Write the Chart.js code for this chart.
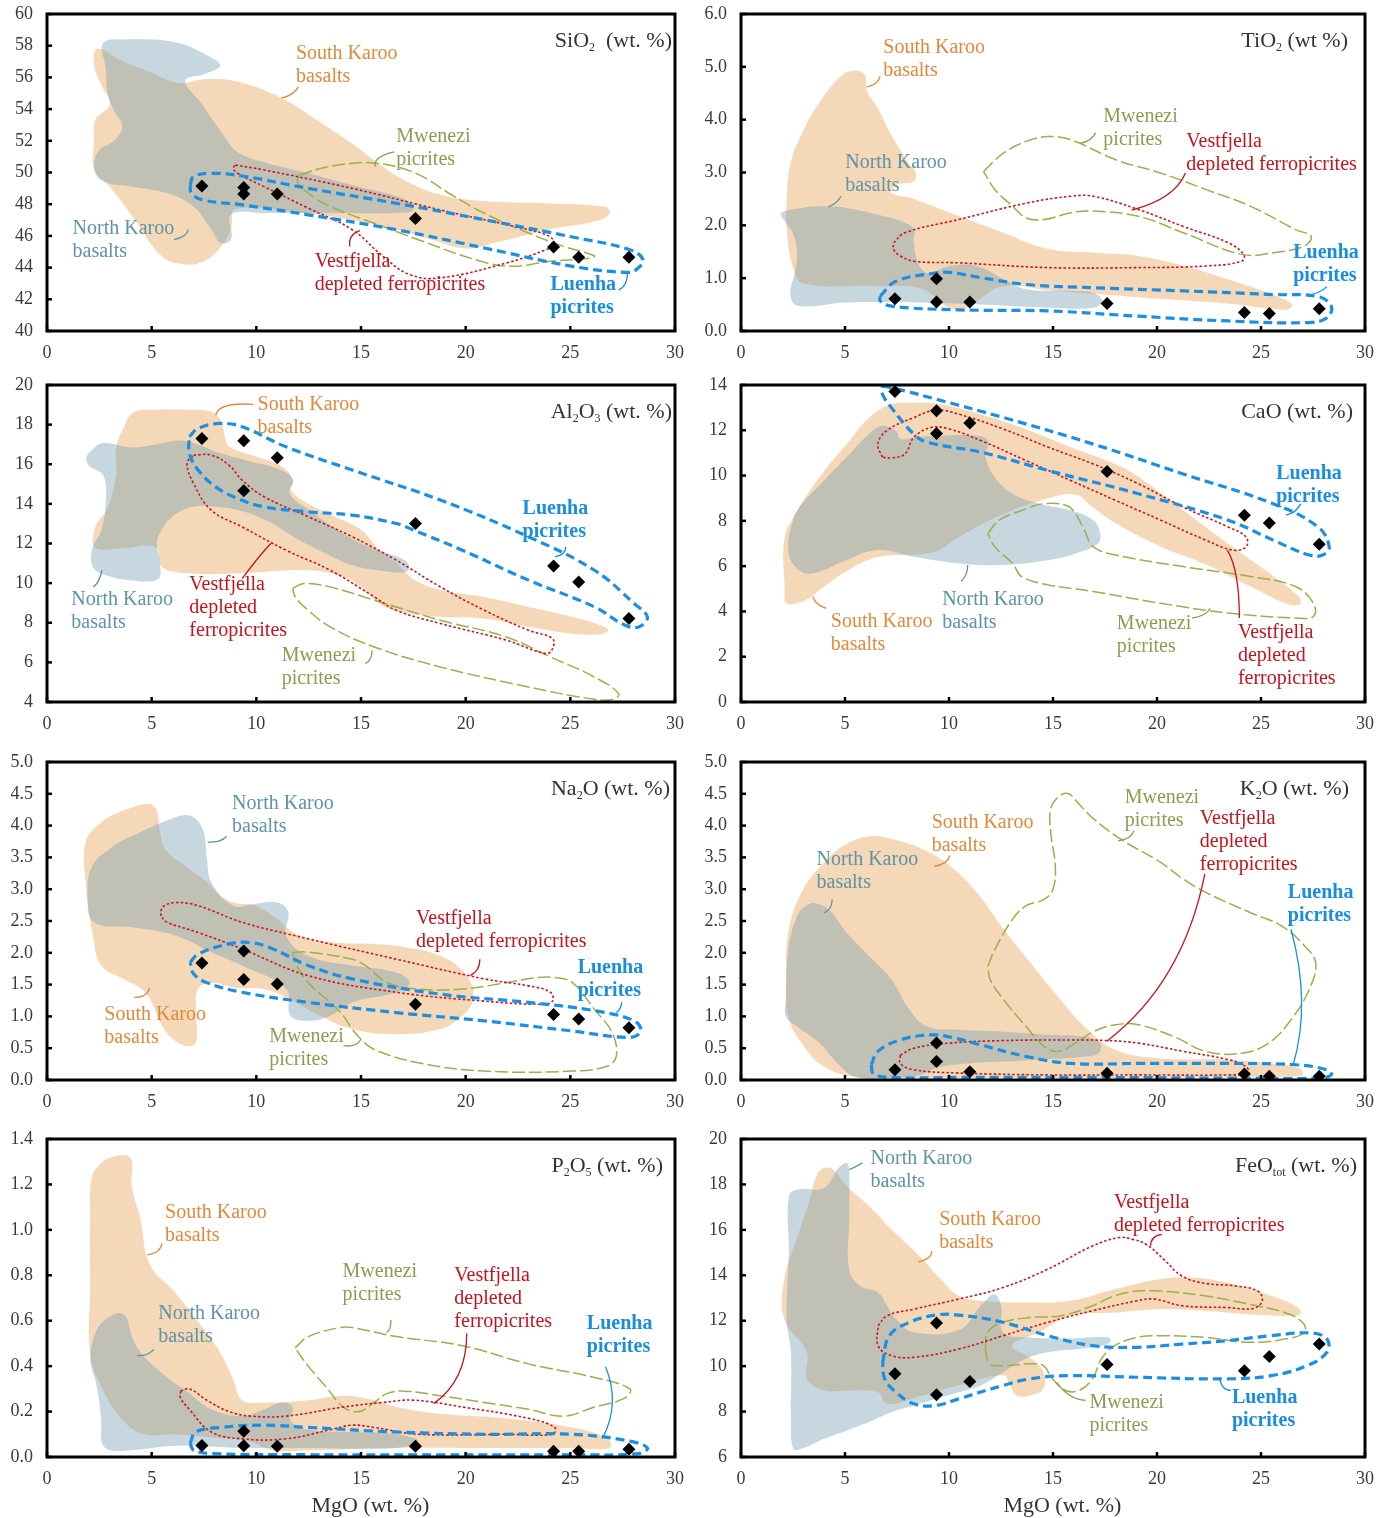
<!DOCTYPE html>
<html>
<head>
<meta charset="utf-8">
<title>Major elements vs MgO</title>
<script src="https://cdn.jsdelivr.net/npm/chart.js@4.4.1/dist/chart.umd.min.js"></script>
<style>
  html, body { margin: 0; padding: 0; background: #fff; }
  #wrap { position: relative; width: 1392px; height: 1518px; overflow: hidden; }
  #wrap canvas { position: absolute; }
</style>
</head>
<body>
<div id="wrap"></div>
<script>
// ---- Luenha picrite samples (wt. %) ----
const mgo   = [7.4, 9.4, 9.4, 11.0, 17.6, 24.2, 25.4, 27.8];
const sio2  = [49.15, 49.05, 48.65, 48.65, 47.1, 45.3, 44.65, 44.65];
const tio2  = [0.61, 0.99, 0.55, 0.55, 0.52, 0.35, 0.33, 0.42];
const al2o3 = [17.3, 17.18, 14.66, 16.33, 13.01, 10.87, 10.06, 8.21];
const cao   = [13.71, 12.86, 11.86, 12.32, 10.18, 8.25, 7.91, 6.97];
const na2o  = [1.84, 2.03, 1.58, 1.51, 1.19, 1.03, 0.96, 0.82];
const k2o   = [0.16, 0.58, 0.29, 0.13, 0.105, 0.095, 0.06, 0.06];
const p2o5  = [0.051, 0.113, 0.049, 0.047, 0.047, 0.025, 0.025, 0.034];
const feo   = [9.66, 11.9, 8.74, 9.32, 10.07, 9.8, 10.42, 10.97];

// ---- Compositional fields, outlines as [MgO, oxide] ----
// SiO2
const skSiO2 = [[2.4,57.8],[3.5,57.1],[5.0,56.3],[6.3,55.65],[7.6,55.9],[9.2,55.7],[11.2,54.7],[12.9,53.3],[14.6,51.8],[15.8,50.6],[17.1,49.5],[18.8,48.6],[20.9,48.2],[24.0,48.05],[26.6,47.85],[26.9,47.5],[26.4,47.0],[24.0,46.4],[21.5,45.6],[20.0,45.2],[18.4,45.75],[16.7,46.4],[14.6,47.0],[12.5,47.4],[9.0,47.7],[8.8,46.5],[8.3,45.3],[7.5,44.4],[6.6,44.2],[5.5,44.7],[4.1,47.2],[3.0,49.1],[2.25,50.2],[2.25,52.0],[2.3,53.3],[3.0,54.3],[2.6,55.5],[2.25,56.8]];
const nkSiO2 = [[2.7,58.2],[4.06,58.4],[6.16,58.2],[7.64,57.4],[8.27,56.75],[7.5,56.2],[6.6,55.8],[7.4,54.3],[8.3,52.6],[9.1,51.3],[10.5,50.6],[12.5,49.95],[14.6,49.2],[16.7,48.5],[17.4,48.05],[17.5,47.7],[17.3,47.5],[14.6,47.43],[10.4,47.43],[8.8,47.35],[8.8,45.8],[8.3,45.55],[7.85,46.4],[7.0,47.85],[5.7,48.7],[4.06,49.1],[2.6,49.5],[2.25,50.4],[2.5,51.4],[3.2,52.0],[3.6,52.9],[3.2,53.9],[2.9,55.0],[2.8,56.6]];
const mwSiO2 = [[12.06,49.84],[13.2,50.3],[14.58,50.58],[15.42,50.62],[16.68,50.37],[17.95,49.74],[19.2,48.69],[20.89,47.43],[23.0,46.18],[24.68,45.34],[26.15,44.75],[26.0,44.6],[24.05,44.4],[22.15,44.08],[20.47,44.5],[17.74,45.76],[15.63,46.8],[13.53,47.85],[12.48,48.69],[11.95,49.4]];
const vfSiO2 = [[9.0,50.47],[10.37,50.16],[14.58,49.0],[18.79,47.64],[23.0,46.39],[24.05,45.93],[24.2,45.45],[23.84,45.13],[21.94,44.29],[18.79,43.35],[17.32,43.56],[16.05,44.71],[14.58,46.39],[12.48,47.75],[10.37,49.11],[9.11,49.95],[8.9,50.26]];
const luSiO2 = [[6.84,49.2],[7.0,49.74],[7.85,49.95],[9.32,49.78],[12.48,49.0],[16.68,48.06],[20.89,47.02],[25.1,45.93],[27.84,45.13],[28.47,44.5],[28.15,43.87],[27.62,43.7],[25.1,44.08],[20.89,45.24],[16.68,46.39],[12.48,47.33],[9.32,47.96],[7.43,48.27],[6.9,48.69]];

// TiO2
const skTiO2 = [[5.6,4.93],[5.95,4.85],[6.05,4.55],[6.6,4.2],[7.1,3.8],[7.7,3.4],[8.1,3.15],[8.4,3.0],[8.3,2.83],[7.5,2.77],[7.2,2.62],[8.3,2.5],[10.5,2.17],[12.6,1.86],[14.8,1.55],[17.0,1.48],[19.1,1.42],[21.3,1.23],[23.4,0.98],[25.6,0.68],[26.5,0.5],[26.2,0.4],[23.4,0.52],[19.1,0.64],[14.8,0.77],[12.6,0.85],[11.3,0.55],[10.9,0.44],[10.0,0.44],[8.7,0.8],[6.5,0.85],[3.0,0.9],[2.5,1.2],[2.2,1.9],[2.2,2.5],[2.4,3.2],[3.0,3.8],[3.9,4.4],[4.9,4.85]];
const nkTiO2 = [[1.94,2.24],[2.91,2.33],[3.99,2.36],[5.07,2.33],[6.58,2.2],[7.88,2.05],[8.31,1.92],[8.31,1.67],[8.5,1.3],[8.96,1.1],[10.04,1.23],[11.33,1.23],[12.63,0.98],[13.71,0.79],[15.86,0.76],[16.94,0.72],[17.37,0.57],[16.94,0.44],[14.78,0.44],[11.55,0.5],[8.31,0.54],[5.07,0.54],[2.7,0.48],[2.37,0.72],[2.59,1.1],[2.7,1.48],[2.48,1.86],[2.05,2.11]];
const mwTiO2 = [[11.66,3.02],[12.63,3.37],[13.71,3.59],[14.78,3.68],[15.86,3.62],[18.02,3.24],[20.18,2.99],[22.34,2.68],[24.5,2.36],[26.66,1.92],[27.41,1.79],[27.09,1.61],[25.58,1.48],[24.07,1.45],[21.26,1.86],[19.1,2.17],[16.94,2.27],[15.86,2.24],[14.57,2.11],[13.71,2.14],[13.06,2.36],[12.2,2.68]];
const vfTiO2 = [[7.34,1.67],[7.88,1.86],[10.47,2.11],[13.71,2.42],[15.86,2.55],[16.94,2.55],[19.1,2.3],[21.26,1.98],[23.42,1.67],[24.17,1.45],[24.07,1.32],[22.34,1.23],[19.1,1.2],[14.78,1.2],[10.47,1.29],[8.31,1.32],[7.66,1.42],[7.34,1.54]];
const luTiO2 = [[6.69,0.66],[7.45,0.94],[9.39,1.1],[10.04,1.11],[11.55,1.01],[13.71,0.88],[16.94,0.82],[21.26,0.76],[25.58,0.69],[27.74,0.65],[28.38,0.47],[28.17,0.25],[27.3,0.16],[23.42,0.19],[19.1,0.28],[14.78,0.38],[10.47,0.4],[7.23,0.47],[6.69,0.57]];

// Al2O3
const skAl2O3 = [[3.6,17.7],[4.1,18.6],[5.1,18.75],[6.6,18.75],[7.85,18.65],[8.3,18.2],[8.5,17.4],[8.7,16.9],[9.95,16.4],[11.2,15.9],[11.75,15.2],[11.65,14.7],[12.5,14.0],[13.75,13.35],[15.0,12.7],[15.85,11.7],[16.7,11.0],[17.5,10.2],[18.8,9.65],[20.9,9.3],[23.0,8.8],[25.1,8.3],[26.8,7.7],[26.6,7.45],[25.1,7.45],[23.0,7.8],[20.9,8.2],[18.8,8.3],[16.7,8.6],[15.85,9.0],[15.0,9.8],[14.2,10.3],[12.5,10.65],[9.3,10.5],[6.8,10.5],[5.5,10.8],[5.2,11.8],[3.5,11.75],[2.3,11.8],[2.3,12.8],[2.9,13.8],[3.3,15.5],[3.3,16.8]];
const nkAl2O3 = [[1.95,16.5],[2.6,17.05],[4.0,16.85],[5.2,17.0],[6.3,17.2],[7.2,17.0],[8.3,16.55],[9.5,16.2],[11.2,15.7],[11.75,15.2],[11.6,14.5],[12.5,13.7],[13.7,12.8],[15.0,12.0],[16.3,11.5],[17.1,11.15],[17.3,10.8],[17.1,10.55],[15.8,10.65],[14.6,10.9],[13.3,11.5],[12.0,12.2],[10.4,13.2],[8.5,13.8],[6.5,13.7],[5.3,12.3],[5.4,11.0],[5.3,10.2],[4.0,10.15],[2.8,10.4],[2.2,10.8],[2.15,11.7],[2.6,12.7],[2.8,14.0],[2.7,15.4],[1.95,16.0]];
const mwAl2O3 = [[11.74,9.73],[12.27,9.98],[13.53,9.81],[15.63,9.14],[18.79,8.13],[21.94,7.28],[24.05,6.27],[26.15,5.26],[27.31,4.42],[27.0,4.13],[25.94,4.17],[23.0,4.76],[18.79,5.77],[15.63,6.78],[13.53,7.79],[12.48,8.63],[11.85,9.31]];
const vfAl2O3 = [[7.0,16.46],[7.85,16.46],[8.69,15.96],[9.32,15.2],[10.37,14.36],[12.48,13.35],[14.58,12.34],[16.68,11.16],[18.79,9.81],[20.89,8.63],[23.0,7.62],[24.15,7.2],[24.15,6.69],[23.84,6.44],[21.94,7.12],[18.79,7.96],[16.68,8.63],[15.63,9.31],[13.53,10.65],[11.42,11.66],[9.32,12.84],[7.85,13.68],[7.0,15.03],[6.69,16.04]];
const luAl2O3 = [[6.8,17.39],[7.22,17.81],[8.27,18.06],[9.32,17.89],[11.42,16.88],[14.58,15.71],[18.79,14.19],[23.0,12.34],[26.15,10.65],[28.05,8.97],[28.68,8.29],[28.26,7.79],[27.62,7.87],[26.15,8.8],[23.0,10.15],[19.84,11.66],[17.53,12.67],[16.68,13.01],[14.58,13.43],[12.48,13.6],[10.37,13.85],[9.11,14.27],[8.06,14.86],[7.22,15.71],[6.8,16.55]];

// CaO
const skCaO = [[2.1,7.3],[2.7,8.45],[4.0,10.2],[5.1,11.4],[6.15,12.55],[7.2,13.15],[8.3,13.22],[9.6,13.15],[11.55,12.7],[13.7,12.05],[15.85,11.25],[18.0,10.5],[19.1,9.95],[21.3,8.45],[23.4,7.0],[25.6,5.55],[26.85,4.6],[26.85,4.3],[26.2,4.35],[24.5,5.1],[22.3,6.1],[20.2,6.85],[18.0,7.9],[16.9,8.6],[16.1,9.15],[14.8,9.0],[12.6,8.3],[10.5,7.3],[9.2,6.6],[6.6,6.4],[5.1,5.8],[4.0,5.1],[3.1,4.5],[2.2,4.35],[2.1,5.0]];
const nkCaO = [[2.37,7.59],[2.7,8.46],[3.99,9.78],[5.07,10.81],[6.15,11.83],[6.8,12.2],[7.45,11.98],[7.66,11.61],[8.31,11.69],[9.6,11.76],[11.33,11.76],[11.87,11.54],[11.76,10.81],[12.2,9.93],[13.06,9.2],[14.35,8.76],[15.86,8.46],[16.94,8.03],[17.27,7.44],[17.16,7.0],[16.08,6.56],[14.78,6.27],[12.63,6.05],[10.47,6.12],[8.31,6.41],[6.58,6.71],[5.07,6.27],[3.99,5.83],[3.13,5.68],[2.48,6.12],[2.27,6.85]];
const mwCaO = [[11.87,7.44],[12.41,8.03],[13.49,8.46],[14.57,8.76],[15.65,8.68],[16.08,8.32],[16.51,7.59],[16.94,6.85],[18.02,6.49],[21.26,5.98],[24.5,5.54],[26.66,5.1],[27.52,4.36],[27.52,3.78],[26.66,3.71],[23.42,3.93],[20.18,4.36],[16.94,4.88],[14.78,5.17],[13.49,5.54],[13.06,6.12],[12.2,6.85]];
const vfCaO = [[6.8,10.81],[6.58,11.39],[7.0,11.98],[8.31,12.56],[9.39,12.89],[10.47,12.71],[12.63,12.05],[14.78,11.25],[16.94,10.51],[19.1,9.64],[21.26,8.61],[23.42,7.73],[24.28,7.29],[24.28,6.85],[23.64,6.71],[22.34,7.15],[20.18,8.03],[18.02,8.9],[15.86,9.78],[13.71,10.66],[11.55,11.54],[10.04,12.05],[9.17,12.13],[8.31,11.69],[7.88,10.95],[7.23,10.78]];
const luCaO = [[6.8,13.96],[7.88,13.74],[9.39,13.37],[12.63,12.56],[16.94,11.39],[21.26,10.07],[25.58,8.76],[27.74,7.73],[28.28,6.85],[27.96,6.49],[27.31,6.49],[25.58,7.15],[23.42,8.03],[19.1,9.2],[14.78,10.22],[11.55,11.03],[8.96,11.47],[8.31,11.83],[7.23,13.0],[6.8,13.6]];

// Na2O
const skNa2O = [[4.9,4.34],[5.22,4.26],[5.4,3.9],[5.64,3.63],[6.59,3.37],[7.64,3.11],[8.27,2.9],[8.9,2.79],[9.95,2.74],[10.8,2.58],[12.06,2.27],[13.74,2.16],[15.63,2.14],[16.68,2.11],[18.79,1.95],[20.05,1.64],[20.36,1.27],[19.84,1.01],[18.79,0.8],[16.68,0.72],[14.58,0.8],[12.8,1.05],[11.4,1.3],[10.37,1.43],[9.0,1.45],[7.85,1.53],[7.22,1.43],[7.11,1.11],[7.11,0.59],[6.59,0.54],[5.7,0.75],[4.69,1.38],[3.64,1.59],[2.59,1.8],[2.17,2.32],[1.85,3.11],[1.85,3.74],[2.59,4.05],[3.85,4.26]];
const nkNa2O = [[2.17,3.37],[3.22,3.69],[4.48,3.9],[5.74,4.08],[6.8,4.16],[7.43,3.95],[7.64,3.48],[7.85,3.11],[8.9,2.74],[9.95,2.77],[11.0,2.79],[11.53,2.64],[11.42,2.27],[12.48,1.95],[14.58,1.8],[16.68,1.69],[17.32,1.53],[16.68,1.38],[14.58,1.22],[13.53,1.01],[12.48,0.93],[11.63,1.01],[11.42,1.43],[9.32,1.8],[7.85,2.01],[6.16,2.27],[4.06,2.4],[2.25,2.48],[1.94,2.85]];
const mwNa2O = [[11.74,2.01],[12.48,2.01],[14.58,1.9],[15.21,1.8],[16.26,1.53],[17.74,1.43],[19.84,1.43],[21.94,1.53],[23.42,1.61],[24.26,1.61],[25.1,1.53],[26.15,1.11],[26.99,0.75],[27.2,0.38],[26.78,0.22],[25.1,0.14],[20.89,0.14],[17.74,0.27],[15.63,0.48],[15.0,0.64],[14.58,0.8],[14.16,1.01],[13.53,1.22],[12.48,1.53],[11.85,1.85]];
const vfNa2O = [[5.43,2.58],[5.53,2.72],[6.16,2.79],[7.22,2.74],[9.32,2.48],[12.48,2.22],[16.68,1.9],[20.89,1.59],[23.0,1.48],[24.05,1.38],[24.15,1.24],[23.63,1.19],[20.89,1.24],[16.68,1.38],[12.48,1.64],[9.32,2.06],[7.22,2.32],[5.74,2.48]];
const luNa2O = [[6.84,1.85],[7.22,1.98],[8.69,2.14],[9.74,2.16],[10.8,2.06],[12.48,1.8],[14.58,1.59],[18.79,1.35],[23.0,1.22],[26.15,1.09],[28.05,0.93],[28.36,0.77],[27.84,0.67],[25.1,0.77],[20.89,0.93],[16.68,1.06],[12.48,1.22],[9.32,1.38],[7.64,1.53],[7.0,1.67]];

// K2O
const skK2O = [[2.16,1.53],[2.27,2.32],[2.91,2.95],[3.99,3.42],[5.07,3.71],[6.15,3.83],[7.23,3.79],[8.74,3.63],[10.04,3.37],[11.33,2.95],[12.63,2.37],[13.92,1.84],[15.22,1.32],[16.51,0.84],[18.02,0.47],[20.18,0.34],[23.42,0.32],[25.58,0.26],[26.87,0.18],[26.98,0.08],[25.58,0.05],[21.26,0.04],[16.94,0.03],[12.63,0.03],[8.31,0.03],[5.72,0.04],[3.99,0.21],[2.91,0.58],[2.27,1.0]];
const nkK2O = [[2.16,1.26],[2.27,2.05],[2.7,2.58],[3.13,2.74],[3.56,2.78],[4.21,2.68],[5.07,2.32],[6.15,1.95],[7.23,1.58],[8.09,1.11],[8.96,0.84],[10.47,0.79],[12.63,0.76],[14.78,0.71],[16.51,0.68],[17.27,0.58],[17.2,0.42],[16.51,0.37],[14.35,0.32],[12.63,0.29],[10.9,0.26],[9.5,0.2],[8.6,0.08],[7.0,0.03],[5.5,0.05],[4.64,0.26],[3.78,0.58],[2.7,0.84],[2.16,1.0]];
const mwK2O = [[11.87,1.79],[12.2,2.05],[13.06,2.53],[13.71,2.74],[14.57,2.84],[15.0,3.0],[15.11,3.37],[14.89,3.89],[14.89,4.26],[15.32,4.47],[15.75,4.5],[16.3,4.32],[16.94,4.11],[18.24,3.79],[20.18,3.42],[21.26,3.16],[22.34,2.95],[24.5,2.63],[26.0,2.42],[27.09,2.11],[27.63,1.84],[27.31,1.42],[26.45,0.95],[25.37,0.58],[24.07,0.42],[22.34,0.45],[20.83,0.68],[19.1,0.87],[18.02,0.87],[16.94,0.76],[16.08,0.58],[15.22,0.45],[14.57,0.53],[13.71,0.84],[12.63,1.26],[11.98,1.58]];
const vfK2O = [[7.66,0.39],[8.31,0.5],[10.04,0.58],[12.63,0.62],[15.86,0.63],[17.59,0.62],[19.1,0.58],[21.26,0.45],[23.42,0.32],[24.28,0.21],[24.39,0.11],[23.42,0.08],[19.1,0.08],[14.78,0.08],[10.47,0.11],[8.31,0.16],[7.66,0.26]];
const luK2O = [[6.26,0.24],[6.58,0.45],[7.66,0.63],[9.17,0.71],[10.25,0.66],[11.55,0.55],[13.71,0.37],[15.86,0.26],[19.1,0.26],[23.42,0.26],[26.66,0.24],[28.17,0.16],[28.38,0.08],[27.74,0.03],[23.42,0.03],[16.94,0.04],[10.47,0.04],[7.23,0.04],[6.37,0.1]];

// P2O5
const skP2O5 = [[2.17,1.24],[2.8,1.31],[3.96,1.32],[4.06,1.19],[4.48,1.04],[4.9,0.85],[6.16,0.72],[7.43,0.57],[8.27,0.46],[8.9,0.34],[9.32,0.25],[10.37,0.24],[12.48,0.25],[14.16,0.27],[15.63,0.25],[16.68,0.22],[18.79,0.19],[21.94,0.17],[25.1,0.13],[26.78,0.08],[26.89,0.04],[25.1,0.04],[20.89,0.04],[16.68,0.04],[12.48,0.03],[10.79,0.03],[9.6,0.07],[7.43,0.09],[6.16,0.1],[4.69,0.1],[3.64,0.16],[2.59,0.31],[2.06,0.46],[2.06,0.75],[2.06,1.04]];
const nkP2O5 = [[2.06,0.44],[2.38,0.56],[3.22,0.63],[3.75,0.62],[4.06,0.53],[4.48,0.46],[5.49,0.37],[6.8,0.28],[7.85,0.21],[9.32,0.18],[10.37,0.21],[11.21,0.24],[11.74,0.22],[11.63,0.16],[12.48,0.12],[14.58,0.11],[16.68,0.1],[17.74,0.07],[16.68,0.04],[12.48,0.04],[9.32,0.04],[6.16,0.05],[4.06,0.03],[3.01,0.03],[2.63,0.06],[2.59,0.16],[2.38,0.31]];
const mwP2O5 = [[11.85,0.48],[12.48,0.53],[14.0,0.57],[14.58,0.57],[16.68,0.53],[19.84,0.49],[23.0,0.41],[26.15,0.35],[27.84,0.3],[27.62,0.26],[26.15,0.22],[24.68,0.18],[23.0,0.21],[20.89,0.24],[18.79,0.27],[17.11,0.29],[16.26,0.28],[15.63,0.24],[14.9,0.2],[14.16,0.22],[13.32,0.31],[12.48,0.4]];
const vfP2O5 = [[6.38,0.29],[6.8,0.3],[7.64,0.25],[8.69,0.2],[9.74,0.18],[11.42,0.18],[14.16,0.22],[16.05,0.24],[17.53,0.25],[19.84,0.22],[23.0,0.17],[24.26,0.13],[24.15,0.1],[21.94,0.1],[17.74,0.1],[15.63,0.13],[14.58,0.14],[13.53,0.12],[11.42,0.08],[9.32,0.08],[7.85,0.11],[6.8,0.21],[6.38,0.26]];
const luP2O5 = [[6.84,0.06],[7.11,0.11],[8.27,0.13],[10.37,0.14],[12.48,0.13],[16.68,0.11],[20.89,0.1],[25.1,0.1],[27.84,0.07],[28.68,0.04],[28.26,0.015],[25.1,0.01],[18.79,0.01],[12.48,0.01],[7.85,0.015],[7.0,0.03]];

// FeO(tot)
const skFeO = [[3.69,18.51],[4.02,18.73],[4.44,18.65],[5.09,17.92],[6.16,17.04],[7.24,16.02],[8.74,14.7],[9.6,13.83],[10.46,13.1],[11.53,12.88],[13.68,12.8],[15.83,12.88],[17.97,13.39],[20.12,13.83],[21.62,13.9],[23.34,13.68],[25.49,13.1],[26.78,12.58],[26.88,12.29],[26.13,12.22],[24.41,12.29],[22.27,12.44],[20.12,12.51],[17.97,12.36],[15.83,12.22],[14.32,11.49],[13.04,10.9],[14.0,10.3],[14.54,9.73],[14.54,9.0],[13.89,8.71],[13.25,8.71],[12.93,9.15],[12.6,9.6],[10.46,9.15],[8.74,8.71],[7.02,8.34],[6.59,8.85],[5.09,8.93],[4.02,8.93],[3.16,9.44],[3.16,10.61],[2.08,12.07],[2.08,13.83],[2.73,15.73],[3.26,17.19]];
const nkFeO = [[4.87,18.87],[5.09,18.95],[5.2,18.65],[5.2,16.46],[5.2,14.27],[5.73,13.53],[6.59,13.24],[7.02,12.66],[7.45,12.07],[8.31,11.49],[10.5,11.6],[11.53,12.66],[12.18,13.17],[12.5,12.66],[12.6,11.49],[13.68,11.27],[15.83,11.22],[17.65,11.27],[17.76,11.05],[16.9,10.83],[14.75,10.61],[13.68,10.32],[12.6,9.73],[11.53,9.15],[10.46,8.85],[8.31,8.27],[7.24,7.98],[6.16,7.54],[5.09,7.17],[4.02,6.81],[2.94,6.37],[2.51,6.37],[2.4,7.68],[2.4,10.61],[2.19,12.07],[2.3,15.0],[2.3,17.48],[2.73,17.78],[3.8,17.78],[4.19,18.0],[4.62,18.65]];
const mwFeO = [[11.75,10.75],[11.86,11.49],[12.6,11.93],[13.89,12.14],[15.4,12.22],[16.9,12.66],[17.97,13.1],[19.05,13.31],[20.12,13.31],[22.27,13.1],[24.41,12.73],[26.13,12.36],[26.99,11.93],[27.1,11.49],[26.13,11.19],[24.41,11.05],[22.27,11.27],[20.12,11.34],[19.05,11.27],[17.97,10.9],[17.33,10.32],[16.9,9.44],[16.26,8.93],[15.61,8.93],[14.97,9.44],[14.54,10.02],[13.89,10.1],[12.6,10.02],[11.96,10.1]];
const vfFeO = [[6.59,11.78],[7.02,12.22],[8.31,12.51],[10.46,12.95],[12.6,13.46],[14.75,14.27],[16.9,15.29],[18.19,15.66],[18.83,15.58],[19.48,15.36],[20.33,14.7],[21.19,13.97],[22.27,13.65],[23.77,13.53],[24.84,13.31],[25.06,12.88],[24.63,12.54],[23.34,12.58],[21.19,12.66],[19.9,12.95],[19.05,12.88],[16.9,12.44],[14.75,11.93],[12.6,11.34],[10.46,10.75],[8.31,10.39],[7.24,10.46],[6.59,10.9]];
const luFeO = [[6.81,10.17],[7.13,11.34],[8.1,11.93],[9.38,12.25],[10.46,12.25],[12.6,11.93],[14.75,11.34],[16.9,10.9],[19.05,10.83],[21.19,10.97],[23.34,11.12],[25.49,11.34],[27.42,11.46],[28.17,11.19],[28.17,10.61],[27.21,10.02],[25.49,9.58],[23.34,9.44],[19.05,9.51],[15.83,9.58],[13.89,9.44],[12.6,9.15],[10.46,8.56],[9.38,8.27],[8.31,8.34],[7.45,8.85],[6.91,9.44]];

// ---- Field labels: text anchor and leader curve [start, control, end] in data units ----
const lblSiO2 = [
  {g:'sk', t:['South Karoo','basalts'], x:11.89, y:57.49, lead:[[11.2,54.7],[11.8,54.87],[12.0,55.4]]},
  {g:'mw', t:['Mwenezi','picrites'], x:16.68, y:52.25, lead:[[15.68,50.37],[15.57,50.99],[16.58,51.3]]},
  {g:'nk', t:['North Karoo','basalts'], x:1.22, y:46.43, lead:[[6.06,45.76],[6.69,45.93],[6.75,46.39]]},
  {g:'vf', t:['Vestfjella','depleted ferropicrites'], x:12.79, y:44.4, lead:[[14.47,45.34],[14.37,46.08],[14.96,46.33]]},
  {g:'lu', t:['Luenha','picrites'], x:24.05, y:42.93, lead:[[27.31,42.58],[27.73,42.83],[27.73,43.67]]}
];
const lblTiO2 = [
  {g:'sk', t:['South Karoo','basalts'], x:6.84, y:5.37, lead:[[6.04,4.62],[6.58,4.66],[6.69,4.82]]},
  {g:'mw', t:['Mwenezi','picrites'], x:17.42, y:4.05, lead:[[16.3,3.55],[16.84,3.59],[17.05,3.75]]},
  {g:'nk', t:['North Karoo','basalts'], x:5.01, y:3.19, lead:[[4.21,2.35],[4.64,2.42],[4.81,2.55]]},
  {g:'vf', t:['Vestfjella','depleted ferropicrites'], x:21.41, y:3.59, lead:[[18.78,2.29],[20.83,2.49],[21.37,2.99]]},
  {g:'lu', t:['Luenha','picrites'], x:26.55, y:1.48, lead:[[28.17,0.84],[27.84,0.72],[27.41,0.69]]}
];
const lblAl2O3 = [
  {g:'sk', t:['South Karoo','basalts'], x:10.06, y:19.02, lead:[[8.06,18.48],[8.2,19.15],[9.85,19.02]]},
  {g:'lu', t:['Luenha','picrites'], x:22.72, y:13.77, lead:[[24.26,11.33],[24.78,11.41],[24.78,11.83]]},
  {g:'nk', t:['North Karoo','basalts'], x:1.16, y:9.17, lead:[[2.21,9.81],[2.48,9.98],[2.63,10.65]]},
  {g:'vf', t:['Vestfjella','depleted','ferropicrites'], x:6.8, y:9.9, lead:[[9.32,10.23],[10.16,11.41],[10.69,12.0]]},
  {g:'mw', t:['Mwenezi','picrites'], x:11.21, y:6.31, lead:[[15.21,5.94],[15.53,6.1],[15.53,6.61]]}
];
const lblCaO = [
  {g:'lu', t:['Luenha','picrites'], x:25.73, y:10.08, lead:[[26.2,8.25],[26.7,8.35],[26.9,8.75]]},
  {g:'sk', t:['South Karoo','basalts'], x:4.32, y:3.53, lead:[[3.45,4.66],[3.56,4.3],[4.1,4.14]]},
  {g:'nk', t:['North Karoo','basalts'], x:9.67, y:4.51, lead:[[10.58,5.32],[10.9,5.6],[10.9,6.05]]},
  {g:'mw', t:['Mwenezi','picrites'], x:18.07, y:3.46, lead:[[21.69,3.71],[22.34,3.78],[22.56,4.14]]},
  {g:'vf', t:['Vestfjella','depleted','ferropicrites'], x:23.89, y:3.05, lead:[[23.38,6.71],[23.96,5.83],[23.96,3.71]]}
];
const lblNa2O = [
  {g:'nk', t:['North Karoo','basalts'], x:8.84, y:4.34, lead:[[7.68,3.74],[8.27,3.73],[8.58,3.83]]},
  {g:'sk', t:['South Karoo','basalts'], x:2.74, y:1.02, lead:[[4.17,1.3],[4.79,1.3],[4.9,1.45]]},
  {g:'vf', t:['Vestfjella','depleted ferropicrites'], x:17.63, y:2.54, lead:[[20.22,1.64],[20.68,1.72],[20.68,1.9]]},
  {g:'lu', t:['Luenha','picrites'], x:25.35, y:1.77, lead:[[27.2,1.06],[27.4,1.1],[27.46,1.22]]},
  {g:'mw', t:['Mwenezi','picrites'], x:10.62, y:0.68, lead:[[14.16,0.54],[14.79,0.51],[15.0,0.64]]}
];
const lblK2O = [
  {g:'mw', t:['Mwenezi','picrites'], x:18.45, y:4.44, lead:[[18.13,3.76],[18.78,3.79],[18.89,3.92]]},
  {g:'sk', t:['South Karoo','basalts'], x:9.17, y:4.04, lead:[[9.28,3.36],[9.93,3.39],[10.04,3.53]]},
  {g:'nk', t:['North Karoo','basalts'], x:3.63, y:3.46, lead:[[3.99,2.63],[4.38,2.68],[4.38,2.84]]},
  {g:'vf', t:['Vestfjella','depleted','ferropicrites'], x:22.06, y:4.1, lead:[[17.59,0.61],[21.26,1.53],[22.3,3.24]]},
  {g:'lu', t:['Luenha','picrites'], x:26.29, y:2.95, lead:[[26.44,2.37],[27.41,1.21],[26.55,0.24]]}
];
const lblP2O5 = [
  {g:'sk', t:['South Karoo','basalts'], x:5.64, y:1.076, lead:[[4.8,0.89],[5.43,0.9],[5.49,0.94]]},
  {g:'mw', t:['Mwenezi','picrites'], x:14.12, y:0.816, lead:[[16.22,0.547],[16.43,0.56],[16.43,0.603]]},
  {g:'vf', t:['Vestfjella','depleted','ferropicrites'], x:19.46, y:0.797, lead:[[18.47,0.235],[20.05,0.338],[20.05,0.544]]},
  {g:'nk', t:['North Karoo','basalts'], x:5.32, y:0.629, lead:[[4.31,0.446],[4.8,0.444],[5.11,0.474]]},
  {g:'lu', t:['Luenha','picrites'], x:25.79, y:0.588, lead:[[26.53,0.081],[27.41,0.235],[26.68,0.397]]}
];
const lblFeO = [
  {g:'nk', t:['North Karoo','basalts'], x:6.23, y:19.12, lead:[[5.2,18.65],[5.41,18.73],[5.84,18.95]]},
  {g:'sk', t:['South Karoo','basalts'], x:9.53, y:16.46, lead:[[8.52,14.59],[9.17,14.71],[9.17,15.07]]},
  {g:'vf', t:['Vestfjella','depleted ferropicrites'], x:17.93, y:17.19, lead:[[19.69,15.29],[19.69,15.73],[20.23,15.8]]},
  {g:'mw', t:['Mwenezi','picrites'], x:16.75, y:8.37, lead:[[15.18,9.29],[15.72,8.56],[16.58,8.49]]},
  {g:'lu', t:['Luenha','picrites'], x:23.6, y:8.59, lead:[[23.02,9.44],[23.12,8.93],[23.55,8.93]]}
];

// ---- Styling ----
const SERIF = '"Liberation Serif", "Times New Roman", serif';
Chart.defaults.font.family = SERIF;
const GROUP = {
  sk: { color: '#de8a3c', bold: false, fill: 'rgba(236,178,112,0.5)' },
  nk: { color: '#5e94a6', bold: false, fill: 'rgba(120,160,178,0.42)' },
  mw: { color: '#8c9d52', bold: false, line: '#9caf4c', width: 1.5, dash: [13, 4] },
  vf: { color: '#c2141c', bold: false, line: '#c8161e', width: 1.6, dash: [2.5, 2.2] },
  lu: { color: '#1b8de0', bold: true,  line: '#1d8fe3', width: 3.2, dash: [9, 5] }
};
const TICK_COLOR = '#3a3a3a';

// Panel grid: column x-extents of the plot frame and row y-extents
const COLS = [
  { left: 0,   width: 696, yw: 47, padRight: 21 },
  { left: 696, width: 696, yw: 45, padRight: 27 }
];
const ROWS = [
  { top: 0,    height: 376, xh: 45 },
  { top: 371,  height: 375, xh: 44 },
  { top: 748,  height: 376, xh: 44 },
  { top: 1125, height: 393, xh: 61 }
];

const panels = [
  { col:0, row:0, min:40, max:60, step:2, dec:0, vals:sio2, title:[['SiO',0],['2',1],['  (wt. %)',0]], tpad:3,
    f:{sk:skSiO2, nk:nkSiO2, mw:mwSiO2, vf:vfSiO2, lu:luSiO2}, labels:lblSiO2 },
  { col:1, row:0, min:0, max:6, step:1, dec:1, vals:tio2, title:[['TiO',0],['2',1],[' (wt %)',0]], tpad:17,
    f:{sk:skTiO2, nk:nkTiO2, mw:mwTiO2, vf:vfTiO2, lu:luTiO2}, labels:lblTiO2 },
  { col:0, row:1, min:4, max:20, step:2, dec:0, vals:al2o3, title:[['Al',0],['2',1],['O',0],['3',1],[' (wt. %)',0]], tpad:3,
    f:{sk:skAl2O3, nk:nkAl2O3, mw:mwAl2O3, vf:vfAl2O3, lu:luAl2O3}, labels:lblAl2O3 },
  { col:1, row:1, min:0, max:14, step:2, dec:0, vals:cao, title:[['CaO (wt. %)',0]], tpad:12,
    f:{sk:skCaO, nk:nkCaO, mw:mwCaO, vf:vfCaO, lu:luCaO}, labels:lblCaO },
  { col:0, row:2, min:0, max:5, step:0.5, dec:1, vals:na2o, title:[['Na',0],['2',1],['O (wt. %)',0]], tpad:5,
    f:{sk:skNa2O, nk:nkNa2O, mw:mwNa2O, vf:vfNa2O, lu:luNa2O}, labels:lblNa2O },
  { col:1, row:2, min:0, max:5, step:0.5, dec:1, vals:k2o, title:[['K',0],['2',1],['O (wt. %)',0]], tpad:16,
    f:{sk:skK2O, nk:nkK2O, mw:mwK2O, vf:vfK2O, lu:luK2O}, labels:lblK2O },
  { col:0, row:3, min:0, max:1.4, step:0.2, dec:1, vals:p2o5, title:[['P',0],['2',1],['O',0],['5',1],[' (wt. %)',0]], tpad:12,
    f:{sk:skP2O5, nk:nkP2O5, mw:mwP2O5, vf:vfP2O5, lu:luP2O5}, labels:lblP2O5, xTitle:true },
  { col:1, row:3, min:6, max:20, step:2, dec:0, vals:feo, title:[['FeO',0],['tot',1],[' (wt. %)',0]], tpad:8,
    f:{sk:skFeO, nk:nkFeO, mw:mwFeO, vf:vfFeO, lu:luFeO}, labels:lblFeO, xTitle:true }
];

// closed outline: repeat the first vertex
function closedPath(pts) {
  const d = pts.map(p => ({ x: p[0], y: p[1] }));
  d.push({ x: pts[0][0], y: pts[0][1] });
  return d;
}
// closed area: wrap one vertex further so the spline joins smoothly
function closedArea(pts) {
  const d = closedPath(pts);
  d.push({ x: pts[1][0], y: pts[1][1] });
  return d;
}

// text with subscript runs, right-aligned at xr
function drawRich(ctx, segs, xr, ym, size) {
  const subSize = Math.round(size * 0.55);
  let total = 0;
  segs.forEach(s => {
    ctx.font = (s[1] ? subSize : size) + 'px ' + SERIF;
    total += ctx.measureText(s[0]).width;
  });
  let x = xr - total;
  ctx.textAlign = 'left';
  ctx.textBaseline = 'middle';
  segs.forEach(s => {
    ctx.font = (s[1] ? subSize : size) + 'px ' + SERIF;
    ctx.fillText(s[0], x, ym + (s[1] ? size * 0.3 : 0));
    x += ctx.measureText(s[0]).width;
  });
}

function decorPlugin(p) {
  return {
    id: 'decor',
    afterDatasetsDraw(chart) {
      const { ctx, scales: { x, y } } = chart;
      ctx.save();
      p.labels.forEach(l => {
        const st = GROUP[l.g];
        const [a, c, b] = l.lead;
        ctx.beginPath();
        ctx.strokeStyle = st.color;
        ctx.lineWidth = 1.3;
        ctx.setLineDash([]);
        ctx.moveTo(x.getPixelForValue(a[0]), y.getPixelForValue(a[1]));
        ctx.quadraticCurveTo(x.getPixelForValue(c[0]), y.getPixelForValue(c[1]),
                             x.getPixelForValue(b[0]), y.getPixelForValue(b[1]));
        ctx.stroke();
        ctx.fillStyle = st.color;
        ctx.font = (st.bold ? 'bold ' : '') + '20px ' + SERIF;
        ctx.textAlign = 'left';
        ctx.textBaseline = 'middle';
        const tx = x.getPixelForValue(l.x), ty = y.getPixelForValue(l.y);
        l.t.forEach((s, i) => ctx.fillText(s, tx, ty + i * 23));
      });
      ctx.restore();
    },
    afterDraw(chart) {
      const { ctx, chartArea: a, scales: { x, y } } = chart;
      ctx.save();
      ctx.setLineDash([]);
      ctx.strokeStyle = '#000';
      // inward tick marks
      ctx.lineWidth = 2.5;
      y.ticks.forEach(t => {
        const py = y.getPixelForValue(t.value);
        ctx.beginPath(); ctx.moveTo(a.left, py); ctx.lineTo(a.left + 5, py); ctx.stroke();
      });
      x.ticks.forEach(t => {
        const px = x.getPixelForValue(t.value);
        ctx.beginPath(); ctx.moveTo(px, a.bottom); ctx.lineTo(px, a.bottom - 5); ctx.stroke();
      });
      // frame
      ctx.lineWidth = 3;
      ctx.strokeRect(a.left, a.top, a.right - a.left, a.bottom - a.top);
      // oxide title
      ctx.fillStyle = '#333';
      drawRich(ctx, p.title, a.right - p.tpad, a.top + 27, 22);
      // x-axis title on the bottom row
      if (p.xTitle) {
        ctx.font = '22px ' + SERIF;
        ctx.textAlign = 'center';
        ctx.textBaseline = 'middle';
        ctx.fillText('MgO (wt. %)', x.getPixelForValue(15.45), a.bottom + 49);
      }
      ctx.restore();
    }
  };
}

const wrap = document.getElementById('wrap');
panels.forEach(p => {
  const C = COLS[p.col], R = ROWS[p.row];
  const cv = document.createElement('canvas');
  cv.width = C.width; cv.height = R.height;
  cv.style.left = C.left + 'px'; cv.style.top = R.top + 'px';
  cv.style.width = C.width + 'px'; cv.style.height = R.height + 'px';
  wrap.appendChild(cv);

  const outline = (k) => ({
    label: k, data: closedPath(p.f[k]), fill: false,
    borderColor: GROUP[k].line, borderWidth: GROUP[k].width, borderDash: GROUP[k].dash,
    tension: 0.4, pointRadius: 0, pointHoverRadius: 0
  });
  const area = (k) => ({
    label: k, data: closedArea(p.f[k]), fill: 'shape',
    backgroundColor: GROUP[k].fill, borderWidth: 0, borderColor: 'rgba(0,0,0,0)',
    tension: 0.4, pointRadius: 0, pointHoverRadius: 0
  });

  new Chart(cv, {
    type: 'line',
    data: {
      datasets: [
        {
          label: 'Luenha samples',
          data: mgo.map((m, i) => ({ x: m, y: p.vals[i] })),
          showLine: false, pointStyle: 'rectRot', pointRadius: 6.5,
          pointBackgroundColor: '#000', pointBorderColor: '#000', pointBorderWidth: 0
        },
        outline('lu'),
        outline('vf'),
        outline('mw'),
        area('nk'),
        area('sk')
      ]
    },
    options: {
      responsive: false, maintainAspectRatio: false, animation: false,
      devicePixelRatio: 1, events: [],
      layout: { padding: { top: 14, right: C.padRight, left: 0, bottom: 0 } },
      plugins: { legend: { display: false }, tooltip: { enabled: false } },
      scales: {
        x: {
          type: 'linear', min: 0, max: 30,
          ticks: { stepSize: 5, padding: 11, autoSkip: false, color: TICK_COLOR, font: { size: 18, family: SERIF } },
          grid: { display: false, drawTicks: false },
          border: { display: false },
          afterFit: s => { s.height = R.xh; s.paddingLeft = 0; s.paddingRight = 0; }
        },
        y: {
          type: 'linear', min: p.min, max: p.max,
          ticks: { stepSize: p.step, padding: 14, autoSkip: false, color: TICK_COLOR,
                   font: { size: 18, family: SERIF }, callback: v => Number(v).toFixed(p.dec) },
          grid: { display: false, drawTicks: false },
          border: { display: false },
          afterFit: s => { s.width = C.yw; s.paddingTop = 0; s.paddingBottom = 0; }
        }
      }
    },
    plugins: [decorPlugin(p)]
  });
});
</script>
</body>
</html>
